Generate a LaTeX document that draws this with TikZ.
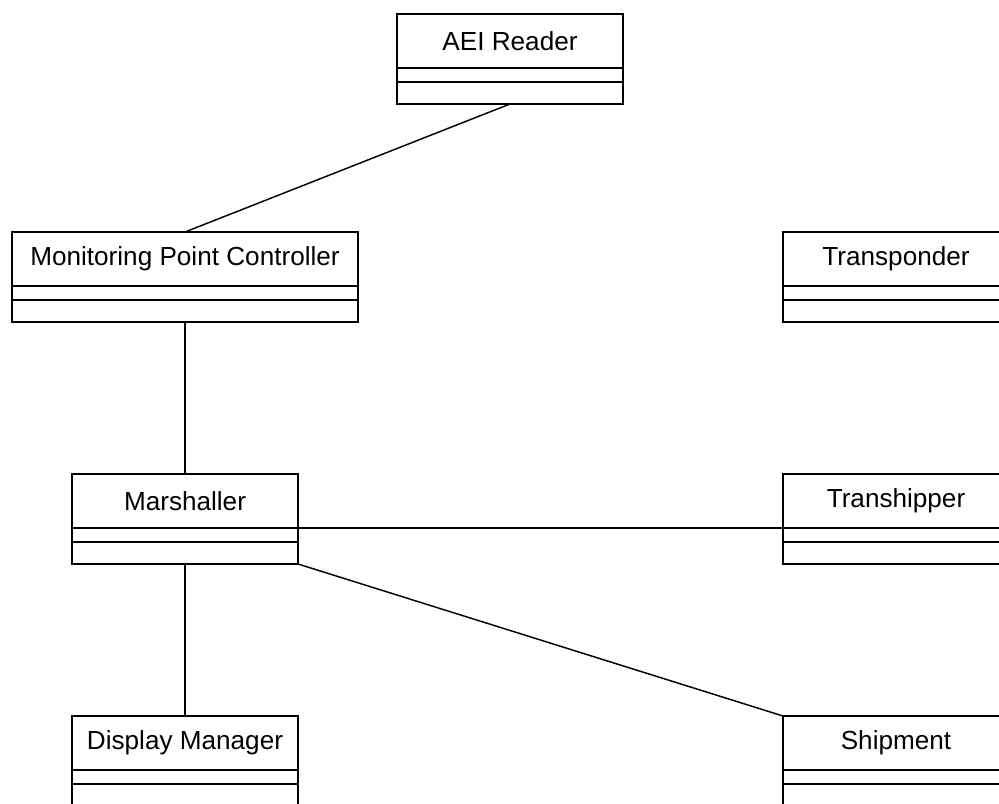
\documentclass[tikz,border=0pt]{standalone}
\usepackage{fontspec}
\setmainfont{Liberation Sans}
\usetikzlibrary{positioning}

\begin{document}
\begin{tikzpicture}[
    x=0.75pt, y=-0.75pt,
    cname/.style={rectangle, draw, line width=1.1pt, outer sep=0pt, inner sep=0pt, minimum width=169.5pt, minimum height=40.5pt, font=\fontsize{19.6}{23}\selectfont},
    cattr/.style={rectangle, draw, line width=1.1pt, outer sep=0pt, inner sep=0pt, minimum width=169.5pt, minimum height=10.5pt},
    cops/.style={rectangle, draw, line width=1.1pt, outer sep=0pt, inner sep=0pt, minimum width=169.5pt, minimum height=16.5pt},
    wide/.style={minimum width=259.5pt},
    link/.style={draw, line width=1.1pt},
]
\path[use as bounding box, clip] (0,0) rectangle (999,803);
% classes
\node[cname] (reader) at (510,41) {AEI Reader};
\node[cattr, below=0pt of reader] (reader-a) {};
\node[cops, below=0pt of reader-a] (reader-o) {};
\node[cname, wide] (mpc) at (185,259) {Monitoring Point Controller};
\node[cattr, wide, below=0pt of mpc] (mpc-a) {};
\node[cops, wide, below=0pt of mpc-a] (mpc-o) {};
\node[cname] (transp) at (896,259) {Transponder};
\node[cattr, below=0pt of transp] (transp-a) {};
\node[cops, below=0pt of transp-a] (transp-o) {};
\node[cname] (marsh) at (185,501) {Marshaller};
\node[cattr, below=0pt of marsh] (marsh-a) {};
\node[cops, below=0pt of marsh-a] (marsh-o) {};
\node[cname] (tranship) at (896,501) {Transhipper};
\node[cattr, below=0pt of tranship] (tranship-a) {};
\node[cops, below=0pt of tranship-a] (tranship-o) {};
\node[cname] (display) at (185,743) {Display Manager};
\node[cattr, below=0pt of display] (display-a) {};
\node[cops, below=0pt of display-a] (display-o) {};
\node[cname] (shipment) at (896,743) {Shipment};
\node[cattr, below=0pt of shipment] (shipment-a) {};
\node[cops, below=0pt of shipment-a] (shipment-o) {};
% associations
\draw[link] (reader-o.south) -- (mpc.north);
\draw[link] (mpc-o.south) -- (marsh.north);
\draw[link] (marsh.south east) -- (tranship.south west);
\draw[link] (marsh-o.south east) -- (shipment.north west);
\draw[link] (marsh-o.south) -- (display.north);
\end{tikzpicture}
\end{document}
